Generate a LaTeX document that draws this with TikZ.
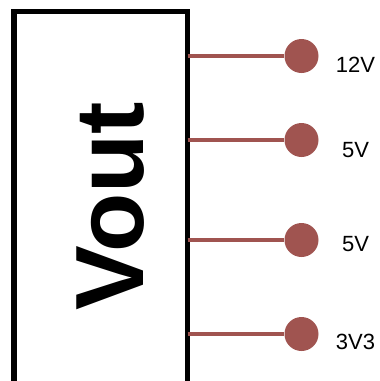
\documentclass[tikz,border=0pt]{standalone}
\usepackage{fontspec}
\setmainfont{Liberation Sans}
\definecolor{pinred}{RGB}{160,84,80}
\begin{document}
\begin{tikzpicture}[x=1pt,y=-1pt,
  box/.style={draw=black,line width=5.5pt,minimum width=173.5pt,minimum height=408pt,inner sep=0pt,outer sep=0pt},
  pin/.style={circle,fill=pinred,minimum size=34pt,inner sep=0pt},
  wire/.style={draw=pinred,line width=4pt},
  lbl/.style={font=\fontsize{22}{26}\selectfont,inner sep=0pt}]
\clip (0,0) rectangle (380,381);
\node[box] (box) at (100.75,215.5) {};
\node[rotate=90,anchor=base,inner sep=0pt,font=\fontsize{97}{100}\selectfont\bfseries] (vout) at (143,206) {Vout};
\node[pin] (p1) at (301.5,56) {};
\node[pin] (p2) at (301.5,140) {};
\node[pin] (p3) at (301.5,240) {};
\node[pin] (p4) at (301.5,334) {};
\draw[wire] (box.east |- p1) -- (p1);
\draw[wire] (box.east |- p2) -- (p2);
\draw[wire] (box.east |- p3) -- (p3);
\draw[wire] (box.east |- p4) -- (p4);
\node[lbl] (l1) at (355.5,65) {12V};
\node[lbl] (l2) at (355.5,150) {5V};
\node[lbl] (l3) at (355.5,244) {5V};
\node[lbl] (l4) at (355.5,342) {3V3};
\end{tikzpicture}
\end{document}
